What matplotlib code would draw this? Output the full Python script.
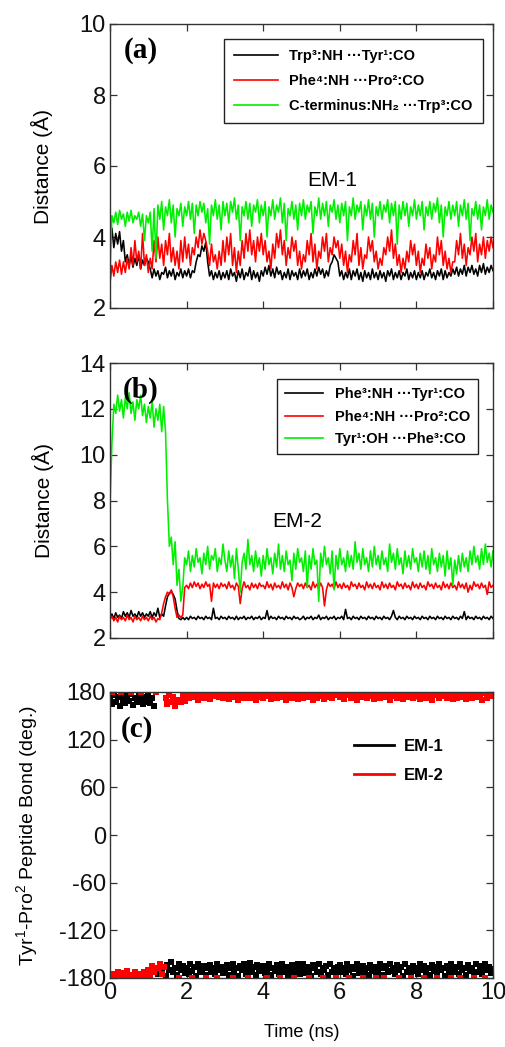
import numpy as np
import matplotlib
matplotlib.use("Agg")
import matplotlib.pyplot as plt

plt.rcParams['font.family'] = ['Liberation Sans', 'DejaVu Sans']
plt.rcParams['mathtext.default'] = 'regular'
plt.rcParams['axes.unicode_minus'] = False

# ---------------- data (0.05 ns steps) -------------
em1_trp3_tyr1 = [
    4.0, 4.25, 3.7, 4.1, 3.8, 4.15, 3.6, 3.9, 3.3, 3.5, 3.2, 3.45, 3.15, 3.4, 3.2, 3.5, 3.1, 3.35, 3.2, 3.4,
    3.3, 3.1, 2.85, 3.1, 2.9, 3.05, 2.8, 3.0, 2.95, 3.15, 2.85, 3.05, 2.9, 3.1, 2.8, 3.0, 2.9, 3.1, 2.85, 3.05,
    2.9, 3.1, 2.85, 3.05, 3.0, 3.3, 3.5, 3.45, 3.75, 3.6, 3.85, 3.3, 2.9, 3.05, 2.8, 3.0, 2.85, 3.05, 2.8, 3.0,
    2.85, 3.05, 2.8, 3.1, 2.9, 3.0, 2.75, 3.05, 2.85, 3.1, 2.8, 3.0, 2.9, 3.15, 2.8, 3.05, 2.85, 3.0, 2.75, 3.05,
    2.9, 3.15, 2.95, 3.2, 2.9, 3.1, 2.85, 3.15, 2.95, 3.05, 2.8, 3.0, 2.85, 3.1, 2.8, 3.05, 2.9, 3.0, 2.8, 3.1,
    2.85, 3.05, 2.9, 3.1, 2.8, 3.0, 2.85, 3.1, 2.9, 3.15, 2.95, 3.1, 2.85, 3.05, 2.9, 3.2, 3.3, 3.5, 3.4, 3.3,
    2.9, 3.05, 2.8, 3.0, 2.85, 3.1, 2.8, 3.05, 2.9, 3.1, 2.8, 3.0, 2.75, 3.05, 2.85, 3.0, 2.8, 3.1, 2.85, 3.0,
    2.8, 3.05, 2.85, 3.0, 2.75, 3.05, 2.9, 3.1, 2.8, 3.0, 2.85, 3.05, 2.8, 3.0, 2.9, 3.1, 2.8, 3.0, 2.85, 3.05,
    2.8, 3.0, 2.85, 3.05, 2.8, 3.0, 2.9, 3.1, 2.85, 3.0, 2.8, 3.05, 2.9, 3.1, 2.8, 3.05, 2.85, 3.0, 2.9, 3.1,
    2.95, 3.15, 2.9, 3.1, 2.95, 3.2, 2.9, 3.15, 3.0, 3.2, 2.95, 3.1, 2.9, 3.2, 3.0, 3.25, 2.95, 3.15, 3.0, 3.2, 3.05]
em1_phe4_pro2 = [
    2.7, 3.2, 2.9, 3.3, 3.0, 3.35, 2.95, 3.3, 3.0, 3.4, 3.1, 3.7, 3.2, 3.9, 3.3, 3.6, 3.1, 4.1, 3.2, 3.5,
    3.0, 3.4, 3.1, 3.9, 3.3, 4.0, 3.4, 3.8, 3.2, 3.9, 3.5, 4.1, 3.3, 3.7, 3.2, 3.6, 3.1, 3.9, 3.3, 4.0,
    3.4, 3.8, 3.2, 3.7, 3.5, 4.0, 3.7, 4.2, 3.8, 4.1, 3.9, 3.6, 3.2, 3.8, 3.3, 3.5, 3.1, 3.6, 3.2, 3.9,
    3.3, 4.0, 3.5, 4.1, 3.2, 3.7, 3.0, 3.6, 3.2, 3.9, 3.4, 4.1, 3.6, 4.2, 3.5, 3.9, 3.3, 4.0, 3.6, 4.1,
    3.5, 3.9, 3.3, 3.6, 3.1, 3.8, 3.4, 4.1, 3.7, 4.2, 3.5, 3.9, 3.2, 3.7, 3.4, 4.0, 3.6, 3.9, 3.2, 3.6,
    3.1, 3.5, 3.3, 3.9, 3.5, 4.1, 3.3, 3.8, 3.1, 3.6, 3.4, 4.0, 3.6, 4.1, 3.3, 3.7, 3.5, 4.0, 3.7, 3.9,
    3.4, 3.8, 3.2, 3.6, 3.0, 3.5, 3.3, 3.9, 3.5, 4.1, 3.2, 3.7, 3.1, 3.5, 3.4, 4.0, 3.6, 3.9, 3.3, 3.6,
    3.1, 3.4, 3.2, 3.7, 3.5, 4.0, 3.6, 4.2, 3.4, 3.8, 3.2, 3.5, 3.0, 3.4, 3.1, 3.6, 3.3, 3.9, 3.5, 3.8,
    3.2, 3.6, 3.0, 3.4, 3.2, 3.8, 3.4, 3.7, 3.1, 3.5, 3.3, 4.0, 3.5, 3.9, 3.2, 3.6, 3.1, 3.4, 3.0, 3.3,
    3.3, 3.9, 3.5, 4.1, 3.4, 3.8, 3.2, 3.7, 3.5, 4.0, 3.6, 4.1, 3.3, 3.8, 3.5, 4.0, 3.4, 3.9, 3.6, 4.0, 3.7]
em1_cterm_trp3 = [
    3.0, 4.6, 4.4, 4.7, 4.35, 4.75, 4.5, 4.65, 4.3, 4.7, 4.45, 4.75, 4.4, 4.6, 4.5, 4.7, 4.3, 4.65, 3.9, 4.6,
    4.4, 4.7, 3.6, 4.8, 3.4, 4.9, 4.5, 5.0, 4.2, 4.85, 4.6, 5.05, 4.4, 4.9, 4.0, 4.8, 4.6, 4.95, 4.3, 4.85,
    4.6, 5.0, 4.5, 4.95, 4.1, 4.9, 4.6, 5.0, 4.7, 4.95, 4.4, 4.8, 3.8, 4.9, 4.6, 5.05, 4.5, 4.9, 4.2, 5.0,
    4.6, 4.95, 4.4, 5.0, 4.7, 5.1, 4.5, 4.9, 3.9, 4.85, 4.6, 5.0, 4.5, 4.95, 4.3, 4.9, 4.7, 5.05, 4.4, 4.9,
    4.6, 5.0, 4.0, 4.85, 4.6, 5.05, 4.5, 4.9, 4.7, 5.1, 4.4, 4.95, 3.9, 4.8, 4.6, 5.0, 4.5, 4.9, 4.2, 4.95,
    4.6, 5.05, 4.5, 4.9, 4.7, 5.0, 4.1, 4.85, 4.6, 5.1, 4.5, 4.95, 4.6, 5.0, 4.3, 4.9, 4.7, 5.05, 4.5, 4.9,
    4.4, 4.95, 4.6, 5.0, 3.9, 4.85, 4.6, 5.1, 4.5, 4.9, 4.7, 5.0, 4.2, 4.9, 4.6, 5.05, 4.5, 4.95, 4.0, 4.85,
    4.6, 5.0, 4.5, 4.9, 4.7, 5.05, 4.4, 4.95, 4.6, 5.0, 3.8, 4.9, 4.5, 5.0, 4.6, 4.95, 4.3, 4.85, 4.6, 5.05,
    4.5, 4.9, 4.6, 5.0, 4.2, 4.85, 4.6, 5.0, 4.5, 4.95, 4.7, 5.1, 4.4, 4.9, 4.0, 4.85, 4.6, 5.0, 4.5, 4.9,
    4.6, 5.0, 4.3, 4.9, 4.6, 5.05, 4.5, 4.95, 3.9, 4.8, 4.6, 5.0, 4.5, 4.9, 4.2, 4.85, 4.6, 5.05, 4.5, 4.9, 4.7]

em2_phe3_tyr1 = [
    2.9, 3.05, 2.85, 3.1, 2.9, 3.0, 2.85, 3.15, 2.95, 3.1, 2.9, 3.2, 2.95, 3.05, 2.9, 3.15, 2.95, 3.1, 2.9, 3.05,
    2.95, 3.15, 2.9, 3.1, 2.95, 3.3, 2.9, 3.05, 2.95, 3.4, 3.8, 3.95, 4.05, 3.9, 3.7, 3.2, 2.85, 2.8, 2.9, 2.8,
    2.9, 2.8, 2.95, 2.85, 2.9, 2.8, 2.95, 2.85, 2.9, 2.8, 2.95, 2.85, 2.9, 2.8, 3.3, 2.85, 2.9, 2.8, 2.95, 2.85,
    2.9, 2.8, 2.95, 2.85, 2.9, 2.8, 2.95, 2.8, 2.9, 2.85, 2.95, 2.8, 2.9, 2.85, 2.95, 2.8, 2.9, 2.85, 2.95, 2.8,
    2.9, 2.85, 3.2, 2.8, 2.95, 2.85, 2.9, 2.8, 2.95, 2.85, 2.9, 2.8, 2.95, 2.85, 2.9, 2.8, 2.95, 2.85, 2.9, 2.8,
    2.85, 2.95, 2.8, 2.9, 2.85, 2.95, 2.8, 2.9, 2.85, 3.0, 2.8, 2.9, 2.85, 2.95, 2.8, 2.9, 2.85, 2.95, 2.8, 2.9,
    2.85, 2.95, 2.8, 3.25, 2.85, 2.9, 2.8, 2.95, 2.85, 2.9, 2.8, 2.95, 2.85, 2.9, 2.8, 2.95, 2.85, 2.9, 2.8, 2.95,
    2.85, 2.9, 2.8, 2.95, 2.85, 2.9, 2.8, 2.95, 3.2, 2.9, 2.8, 2.95, 2.85, 2.9, 2.8, 2.95, 2.85, 2.9, 2.8, 2.95,
    2.85, 2.9, 2.8, 2.95, 2.85, 2.9, 2.8, 2.95, 2.85, 2.9, 2.8, 2.95, 2.85, 2.9, 2.8, 2.95, 2.85, 2.9, 2.8, 2.95,
    2.85, 2.9, 2.8, 2.95, 2.85, 3.15, 2.8, 2.95, 2.85, 2.9, 2.8, 2.95, 2.85, 2.9, 2.8, 2.95, 2.85, 2.9, 2.8, 2.95, 2.85]
em2_phe4_pro2 = [
    2.8, 2.95, 2.75, 2.9, 2.7, 2.95, 2.8, 2.9, 2.75, 3.0, 2.8, 2.9, 2.7, 2.95, 2.8, 2.9, 2.75, 2.95, 2.8, 2.9,
    2.75, 2.95, 2.8, 2.9, 2.7, 2.85, 2.8, 3.1, 3.5, 3.8, 4.0, 3.9, 4.1, 3.8, 3.3, 2.9, 3.0, 2.9, 3.0, 4.2,
    4.3, 4.15, 4.4, 4.2, 4.45, 4.25, 4.4, 4.15, 4.35, 4.2, 4.45, 4.25, 4.35, 3.6, 4.4, 4.2, 4.35, 4.15, 4.4, 4.25,
    4.35, 4.15, 4.45, 4.2, 4.3, 4.1, 4.4, 4.25, 3.5, 4.15, 4.45, 4.2, 4.3, 4.1, 4.4, 4.2, 4.35, 4.15, 4.4, 4.25,
    4.3, 4.15, 4.45, 4.2, 4.35, 4.1, 4.4, 4.2, 4.3, 4.15, 4.45, 4.2, 4.35, 4.1, 4.4, 4.2, 3.8, 4.15, 4.4, 4.25,
    4.35, 4.15, 4.4, 4.2, 4.3, 4.1, 4.45, 4.2, 4.35, 4.15, 4.4, 4.2, 3.4, 4.1, 4.4, 4.25, 4.35, 4.15, 4.45, 4.2,
    4.35, 4.15, 4.4, 4.2, 4.3, 4.1, 4.45, 4.25, 4.35, 4.15, 4.4, 4.2, 4.3, 4.1, 4.45, 4.2, 4.35, 4.15, 4.4, 4.2,
    4.3, 4.1, 4.45, 4.2, 4.35, 4.15, 4.4, 4.2, 4.3, 4.1, 4.45, 4.25, 4.35, 4.15, 4.4, 4.2, 4.3, 4.1, 4.45, 4.2,
    4.35, 4.15, 4.4, 4.2, 4.3, 4.1, 4.45, 4.25, 4.35, 4.15, 4.4, 4.2, 4.3, 4.1, 4.45, 4.2, 4.35, 4.15, 4.4, 4.2,
    4.3, 4.1, 4.45, 4.2, 4.35, 4.15, 4.4, 4.0, 4.3, 4.1, 4.45, 4.25, 4.35, 4.15, 4.4, 4.2, 4.3, 3.9, 4.45, 4.2, 4.3]
em2_tyr1oh_phe3 = [
    7.8, 10.5, 12.2, 11.8, 12.6, 11.9, 12.4, 11.6, 12.5, 12.0, 12.7, 11.8, 12.3, 11.5, 12.4, 12.0, 12.6, 11.7, 12.2, 11.4,
    12.1, 11.6, 12.3, 11.2, 12.0, 11.5, 12.2, 11.0, 12.1, 11.0, 8.0, 6.0, 6.4, 5.2, 6.2, 4.3, 5.0, 3.6, 4.2, 5.5,
    5.2, 5.8, 4.9, 5.6, 5.1, 5.9, 5.3, 5.5, 4.8, 5.7, 5.2, 6.0, 5.0, 5.6, 5.4, 5.9, 4.9, 5.5, 5.2, 6.1,
    5.4, 4.9, 5.8, 5.1, 5.6, 4.6, 5.9, 5.0, 4.0, 5.3, 5.7, 5.0, 6.3, 5.2, 5.6, 4.9, 5.8, 5.1, 5.5, 4.7,
    5.6, 5.0, 5.9, 5.2, 5.5, 4.8, 5.7, 5.1, 6.1, 5.0, 5.6, 4.9, 5.8, 5.2, 5.4, 4.5, 5.7, 5.0, 5.9, 5.3,
    5.5, 4.9, 5.8, 4.2, 5.6, 5.0, 5.9, 5.2, 5.4, 3.6, 5.7, 5.1, 6.0, 5.2, 5.5, 4.8, 5.8, 4.1, 5.6, 5.0,
    5.9, 5.2, 5.5, 4.9, 5.8, 5.1, 5.6, 5.0, 6.2, 5.3, 5.7, 5.0, 5.9, 5.2, 5.5, 4.9, 5.8, 5.1, 6.0, 5.2,
    5.6, 5.0, 5.8, 5.2, 5.5, 4.9, 6.1, 5.3, 5.7, 5.0, 5.9, 5.2, 5.5, 4.8, 5.8, 5.1, 5.6, 5.0, 5.9, 5.3,
    5.5, 4.9, 5.7, 5.1, 5.8, 5.0, 5.6, 4.8, 5.9, 5.2, 5.5, 4.9, 5.7, 5.1, 5.6, 4.7, 5.8, 5.0, 5.5, 4.3,
    5.4, 4.8, 5.6, 4.9, 5.7, 5.1, 5.5, 4.9, 5.8, 5.2, 6.0, 5.3, 5.6, 5.0, 5.9, 5.2, 6.1, 5.3, 5.7, 5.1, 5.8]

omega_em1 = [
    172, 165, 176, 168, 174, 163, 177, 170, 166, 175, 169, 178, 164, 173, 167, 176, 171, 165, 174, 168,
    175, 166, 172, 163, -168, -175, -162, -171, -166, -177, -164, -170, -160, -173, -167, -176, -163, -170, -165, -174,
    -168, -175, -163, -171, -166, -177, -162, -170, -173, -165, -176, -168, -164, -172, -167, -175, -163, -170, -166, -174,
    -171, -164, -176, -168, -162, -173, -167, -177, -165, -170, -163, -175, -169, -161, -172, -166, -176, -164, -171, -168,
    -165, -174, -169, -162, -176, -167, -171, -164, -175, -168, -163, -172, -166, -177, -170, -164, -173, -167, -162, -175,
    -169, -163, -174, -166, -171, -177, -164, -168, -173, -162, -175, -167, -170, -165, -176, -163, -172, -168, -174, -166,
    -164, -172, -167, -175, -163, -170, -166, -177, -169, -162, -174, -168, -165, -173, -167, -176, -164, -171, -166, -175,
    -170, -163, -176, -168, -165, -173, -162, -171, -167, -175, -164, -170, -166, -177, -163, -172, -168, -174, -165, -171,
    -167, -175, -162, -170, -165, -173, -168, -176, -164, -171, -166, -174, -163, -170, -167, -177, -165, -172, -162, -169,
    -173, -166, -175, -163, -170, -168, -176, -164, -171, -167, -174, -162, -172, -165, -175, -168, -163, -170, -166, -174, -169]
omega_em2 = [
    -178, 179.5, -175, -179, -172, -177, 179.5, -174, -179, -171, -176, 179.5, -178, -173, -179, -175, 179.5, -177, -172, -179,
    -170, -176, -165, -172, 179.5, -168, -163, -175, -166, 172, 165, 176, 168, 174, 163, 170, -179.5, 167, 175, 169,
    177, 172, 179, -179.5, 174, 178, 170, 176, 179, 173, -179.5, 177, 171, 178, 175, 179, -179.5, 174, 178, 172,
    176, 179, 171, 177, -179.5, 174, 178, 170, 175, 179, 173, 177, -179.5, 172, 178, 175, 170, 179, 174, 176,
    173, 178, -179.5, 175, 171, 179, 176, 172, 177, -179.5, 174, 179, 170, 176, 178, 173, -179.5, 175, 171, 178,
    177, 172, 179, 174, -179.5, 176, 170, 178, 173, 179, 175, -179.5, 171, 177, 174, 179, 172, 176, -179.5, 178,
    174, 179, 171, 176, 178, -179.5, 173, 177, 175, 170, 179, 174, -179.5, 176, 172, 178, 175, 179, 171, -179.5,
    176, 172, 179, -179.5, 174, 178, 170, 177, 175, 179, 173, -179.5, 176, 171, 178, 174, 179, -179.5, 172, 177,
    175, 179, 171, 176, -179.5, 173, 178, 174, 170, 179, 176, -179.5, 172, 177, 175, 179, 173, 178, -179.5, 171,
    178, 173, 176, -179.5, 174, 179, 171, 177, 175, 172, -179.5, 178, 174, 176, 170, 179, -179.5, 173, 177, 175, 178]

time_end_ns = 10.0

legend_a = ['Trp\u00b3:NH \u00b7\u00b7\u00b7Tyr\u00b9:CO',
            'Phe\u2074:NH \u00b7\u00b7\u00b7Pro\u00b2:CO',
            'C-terminus:NH\u2082 \u00b7\u00b7\u00b7Trp\u00b3:CO']
legend_b = ['Phe\u00b3:NH \u00b7\u00b7\u00b7Tyr\u00b9:CO',
            'Phe\u2074:NH \u00b7\u00b7\u00b7Pro\u00b2:CO',
            'Tyr\u00b9:OH \u00b7\u00b7\u00b7Phe\u00b3:CO']
legend_c = ['EM-1', 'EM-2']

BLACK, RED, GREEN = '#000000', '#ff0000', '#00ee00'

# ---------------- figure ----------------
W, H = 505, 1047
fig = plt.figure(figsize=(W / 100, H / 100), dpi=100)

def axbox(x0, y0, x1, y1):
    return [x0 / W, 1 - y1 / H, (x1 - x0) / W, (y1 - y0) / H]

ax_a = fig.add_axes(axbox(110, 24, 493, 308))
ax_b = fig.add_axes(axbox(110, 363, 493, 638))
ax_c = fig.add_axes(axbox(110, 692, 493, 978))

def tvec(vals):
    return np.linspace(0, time_end_ns, len(vals))

def style(ax, ticklab):
    for s in ax.spines.values():
        s.set_linewidth(1.0)
        s.set_color('#333333')
    ax.tick_params(direction='in', top=True, right=True, length=5, width=0.9,
                   labelsize=ticklab, colors='#333333', labelcolor='#111111', pad=3)
    ax.set_xlim(0, 10)
    ax.set_xticks([0, 2, 4, 6, 8, 10])

LP = {'family': ['Liberation Sans', 'DejaVu Sans'], 'weight': 'bold', 'size': 10.5}

lw = 1.15
for vals, c, lab in zip([em1_trp3_tyr1, em1_phe4_pro2, em1_cterm_trp3], [BLACK, RED, GREEN], legend_a):
    ax_a.plot(tvec(vals), vals, color=c, lw=lw, label=lab)
style(ax_a, 17)
ax_a.set_ylim(2, 10)
ax_a.set_yticks([2, 4, 6, 8, 10])
ax_a.tick_params(labelbottom=False)
la = ax_a.legend(loc='upper right', bbox_to_anchor=(0.974, 0.947), borderaxespad=0, prop=LP,
                 fancybox=False, framealpha=1, edgecolor='#222222', handlelength=3.0,
                 handletextpad=0.8, labelspacing=0.75, borderpad=0.7)
la.get_frame().set_linewidth(1.0)
for l in la.get_lines():
    l.set_linewidth(1.2)
ax_a.text(0.08, 0.905, '(a)', transform=ax_a.transAxes, ha='center', va='center',
          fontsize=21, fontweight='bold', family='Liberation Serif')
ax_a.text(5.8, 5.6, 'EM-1', ha='center', va='center', fontsize=15)

for vals, c, lab in zip([em2_phe3_tyr1, em2_phe4_pro2, em2_tyr1oh_phe3], [BLACK, RED, GREEN], legend_b):
    ax_b.plot(tvec(vals), vals, color=c, lw=lw, label=lab)
style(ax_b, 17)
ax_b.set_ylim(2, 14)
ax_b.set_yticks([2, 4, 6, 8, 10, 12, 14])
ax_b.tick_params(labelbottom=False)
lb = ax_b.legend(loc='upper right', bbox_to_anchor=(0.961, 0.942), borderaxespad=0, prop=LP,
                 fancybox=False, framealpha=1, edgecolor='#222222', handlelength=2.6,
                 handletextpad=0.8, labelspacing=0.6, borderpad=0.55)
lb.get_frame().set_linewidth(1.0)
for l in lb.get_lines():
    l.set_linewidth(1.2)
ax_b.text(0.08, 0.9, '(b)', transform=ax_b.transAxes, ha='center', va='center',
          fontsize=21, fontweight='bold', family='Liberation Serif')
ax_b.text(4.9, 7.1, 'EM-2', ha='center', va='center', fontsize=15)

ax_c.plot(tvec(omega_em1), omega_em1, ls='none', marker='s', ms=3.8, mew=0, color=BLACK, label=legend_c[0])
ax_c.plot(tvec(omega_em2), omega_em2, ls='none', marker='s', ms=3.8, mew=0, color=RED, label=legend_c[1])
style(ax_c, 17)
ax_c.set_ylim(-180, 180)
ax_c.set_yticks([-180, -120, -60, 0, 60, 120, 180])
h1, = ax_c.plot([], [], color=BLACK, lw=2)
h2, = ax_c.plot([], [], color=RED, lw=2)
lc = ax_c.legend([h1, h2], legend_c, loc='upper left', bbox_to_anchor=(0.62, 0.86), borderaxespad=0,
                 prop={'family': ['Liberation Sans', 'DejaVu Sans'], 'weight': 'bold', 'size': 12},
                 frameon=False, handlelength=2.4, handletextpad=0.6, labelspacing=0.85)
ax_c.text(0.07, 0.87, '(c)', transform=ax_c.transAxes, ha='center', va='center',
          fontsize=21, fontweight='bold', family='Liberation Serif')
ax_c.set_xlabel('Time (ns)', fontsize=13, labelpad=14)

fig.text(42 / W, 1 - 167 / H, 'Distance (Å)', rotation=90, ha='center', va='center', fontsize=15)
fig.text(43 / W, 1 - 500 / H, 'Distance (Å)', rotation=90, ha='center', va='center', fontsize=15)
fig.text(27 / W, 1 - 835 / H, 'Tyr$^1$-Pro$^2$ Peptide Bond (deg.)', rotation=90,
         ha='center', va='center', fontsize=14)

fig.savefig('out.png', dpi=100)
